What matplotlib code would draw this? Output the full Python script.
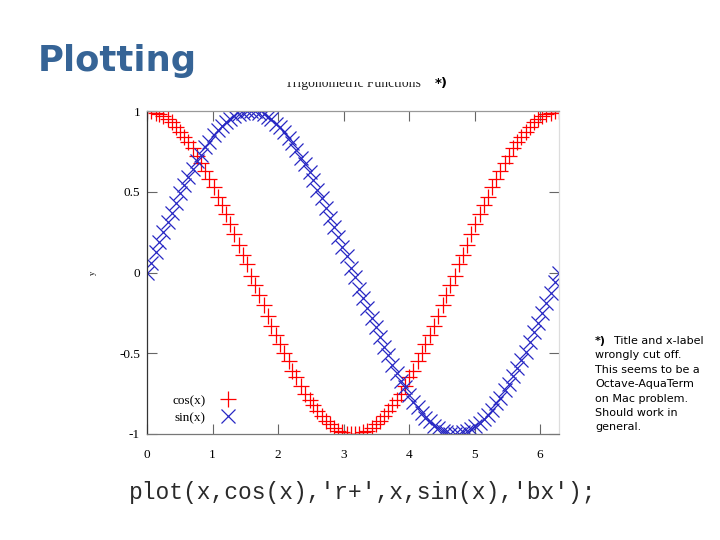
import matplotlib
matplotlib.use("Agg")
import matplotlib.pyplot as plt
from matplotlib.patches import Rectangle

# ---- data ----
x = [0.00, 0.06, 0.13, 0.19, 0.25, 0.32, 0.38, 0.44, 0.51, 0.57,
     0.63, 0.70, 0.76, 0.83, 0.89, 0.95, 1.02, 1.08, 1.14, 1.21,
     1.27, 1.33, 1.40, 1.46, 1.52, 1.59, 1.65, 1.71, 1.78, 1.84,
     1.90, 1.97, 2.03, 2.09, 2.16, 2.22, 2.28, 2.35, 2.41, 2.48,
     2.54, 2.60, 2.67, 2.73, 2.79, 2.86, 2.92, 2.98, 3.05, 3.11,
     3.17, 3.24, 3.30, 3.36, 3.43, 3.49, 3.55, 3.62, 3.68, 3.74,
     3.81, 3.87, 3.93, 4.00, 4.06, 4.13, 4.19, 4.25, 4.32, 4.38,
     4.44, 4.51, 4.57, 4.63, 4.70, 4.76, 4.82, 4.89, 4.95, 5.01,
     5.08, 5.14, 5.20, 5.27, 5.33, 5.39, 5.46, 5.52, 5.59, 5.65,
     5.71, 5.78, 5.84, 5.90, 5.97, 6.03, 6.09, 6.16, 6.22, 6.28]

cos_vals = [1.00, 1.00, 0.99, 0.98, 0.97, 0.95, 0.93, 0.90, 0.87, 0.84,
            0.81, 0.77, 0.72, 0.68, 0.63, 0.58, 0.53, 0.47, 0.42, 0.36,
            0.30, 0.24, 0.17, 0.11, 0.05, -0.02, -0.08, -0.14, -0.20, -0.27,
            -0.33, -0.39, -0.44, -0.50, -0.55, -0.61, -0.65, -0.70, -0.75, -0.79,
            -0.82, -0.86, -0.89, -0.92, -0.94, -0.96, -0.98, -0.99, -1.00, -1.00,
            -1.00, -1.00, -0.99, -0.98, -0.96, -0.94, -0.92, -0.89, -0.86, -0.82,
            -0.79, -0.75, -0.70, -0.65, -0.61, -0.55, -0.50, -0.44, -0.39, -0.33,
            -0.27, -0.20, -0.14, -0.08, -0.02, 0.05, 0.11, 0.17, 0.24, 0.30,
            0.36, 0.42, 0.47, 0.53, 0.58, 0.63, 0.68, 0.72, 0.77, 0.81,
            0.84, 0.87, 0.90, 0.93, 0.95, 0.97, 0.98, 0.99, 1.00, 1.00]

sin_vals = [0.00, 0.06, 0.13, 0.19, 0.25, 0.31, 0.37, 0.43, 0.49, 0.54,
            0.59, 0.64, 0.69, 0.73, 0.78, 0.81, 0.85, 0.88, 0.91, 0.93,
            0.95, 0.97, 0.98, 0.99, 1.00, 1.00, 1.00, 0.99, 0.98, 0.96,
            0.95, 0.92, 0.90, 0.87, 0.83, 0.80, 0.76, 0.71, 0.67, 0.62,
            0.57, 0.51, 0.46, 0.40, 0.34, 0.28, 0.22, 0.16, 0.10, 0.03,
            -0.03, -0.10, -0.16, -0.22, -0.28, -0.34, -0.40, -0.46, -0.51, -0.57,
            -0.62, -0.67, -0.71, -0.76, -0.80, -0.83, -0.87, -0.90, -0.92, -0.95,
            -0.96, -0.98, -0.99, -1.00, -1.00, -1.00, -0.99, -0.98, -0.97, -0.95,
            -0.93, -0.91, -0.88, -0.85, -0.81, -0.78, -0.73, -0.69, -0.64, -0.59,
            -0.54, -0.49, -0.43, -0.37, -0.31, -0.25, -0.19, -0.13, -0.06, 0.00]

xticks = [0, 1, 2, 3, 4, 5, 6]
xtick_labels = ["0", "1", "2", "3", "4", "5", "6"]
yticks = [-1, -0.5, 0, 0.5, 1]
ytick_labels = ["-1", "-0.5", "0", "0.5", "1"]
series_labels = ["cos(x)", "sin(x)"]

slide_title = "Plotting"
plot_title = "Trigonometric Functions"
note_lines = ["Title and x-label", "wrongly cut off.", "This seems to be a",
              "Octave-AquaTerm", "on Mac problem.", "Should work in", "general."]
code_line = "plot(x,cos(x),'r+',x,sin(x),'bx');"

# ---- figure ----
W, H = 720, 540
fig = plt.figure(figsize=(7.2, 5.4), dpi=100)
fig.patch.set_facecolor("white")

def fx(px):
    return px / W

def fy(py):
    return 1 - py / H

ax = fig.add_axes([fx(147), fy(434), fx(558.5) - fx(147), fy(111) - fy(434)])

serif = ["Liberation Serif", "DejaVu Serif"]

ax.plot(x, cos_vals, linestyle="none", marker="+", color="#ff0000",
        markersize=11, markeredgewidth=0.9, label=series_labels[0])
ax.plot(x, sin_vals, linestyle="none", marker="x", color="#2828c4",
        markersize=10, markeredgewidth=0.9, label=series_labels[1])

ax.set_xlim(0, x[-1])
ax.set_ylim(-1, 1)
ax.set_xticks(xticks)
ax.set_xticklabels(xtick_labels, family=serif, fontsize=9.5)
ax.set_yticks(yticks)
ax.set_yticklabels(ytick_labels, family=serif, fontsize=9.5)

ax.tick_params(axis="both", direction="in", length=7, width=0.8, color="#666666",
               top=True, right=True)
ax.tick_params(axis="x", pad=11)
ax.tick_params(axis="y", pad=5)

ax.spines["left"].set_color("#333333")
ax.spines["bottom"].set_color("#777777")
ax.spines["top"].set_color("#999999")
ax.spines["right"].set_color("#dddddd")
for s in ax.spines.values():
    s.set_linewidth(0.9)

ax.set_ylabel("y", family=serif, fontsize=6, labelpad=16)

leg = ax.legend(loc="lower right", bbox_to_anchor=((246.5 - 147) / 411.5, 0.015),
                borderaxespad=0, frameon=False, markerfirst=False,
                prop={"family": serif, "size": 9.5},
                handlelength=2.0, handletextpad=0.7, labelspacing=0.36)

# slide title
fig.text(fx(38), fy(71), slide_title, fontsize=25.5, fontweight="bold",
         color="#366496", family="DejaVu Sans", ha="left", va="baseline")

# plot title whose top is cut off (covered by a white band)
fig.text(fx(353), fy(86.5), plot_title, family=serif, fontsize=9.8,
         ha="center", va="baseline", color="#222222", zorder=3)
fig.add_artist(Rectangle((fx(270), fy(81.5)), fx(160), fy(60) - fy(81.5),
                         transform=fig.transFigure, facecolor="white",
                         edgecolor="none", zorder=4))

fig.text(fx(435), fy(84), "*)", fontsize=9.5, fontweight="bold",
         family="DejaVu Sans", ha="left", va="center", color="black", zorder=5)

# side note
note_fs = 8.0
fig.text(fx(595), fy(341), "*)", fontsize=note_fs, fontweight="bold",
         family="DejaVu Sans", ha="left", va="center", color="black")
fig.text(fx(614), fy(341), note_lines[0], fontsize=note_fs,
         family="DejaVu Sans", ha="left", va="center", color="black")
for i, line in enumerate(note_lines[1:], start=1):
    fig.text(fx(595), fy(341 + 14.4 * i), line, fontsize=note_fs,
             family="DejaVu Sans", ha="left", va="center", color="black")

# code line
fig.text(fx(129), fy(492), code_line, fontsize=16.5,
         family=["Liberation Mono", "DejaVu Sans Mono"],
         ha="left", va="center", color="#2a2a2a")

fig.savefig("out.png", dpi=100)
